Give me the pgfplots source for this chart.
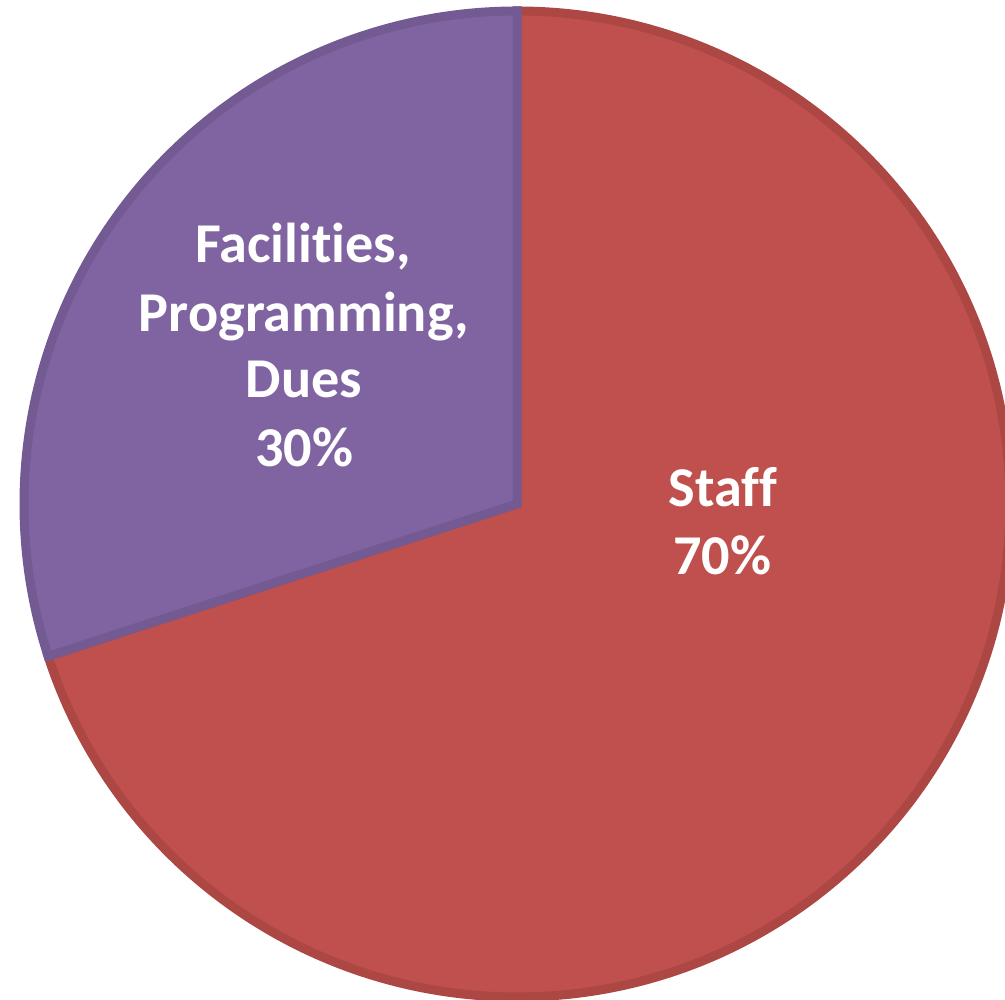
\documentclass[border=0pt]{standalone}
\usepackage{pgfplots}
\pgfplotsset{compat=1.18}
\usepackage{fontspec}
\setmainfont{Carlito}[Ligatures=CommonOff]
\definecolor{staffred}{HTML}{C0504D}
\definecolor{staffborder}{HTML}{AC4744}
\definecolor{facpurple}{HTML}{8064A2}
\definecolor{facborder}{HTML}{735A93}
% values (percent)
\def\vStaff{70}
\def\vFac{30}
\begin{document}
\begin{tikzpicture}
\begin{axis}[
  width=10.05cm, height=10cm, scale only axis,
  xmin=0, xmax=1005, ymin=0, ymax=1000,
  hide axis, clip=true,
]
\pgfmathsetmacro{\aStaffEnd}{90-3.6*\vStaff}
\pgfmathsetmacro{\aFacEnd}{\aStaffEnd-3.6*\vFac}
% Staff slice
\filldraw[fill=staffred, draw=staffborder, line width=0.9mm, line join=miter]
  (axis cs:517,496) -- ++(90:4.93cm) arc[start angle=90, end angle=\aStaffEnd, radius=4.93cm] -- cycle;
% Facilities slice
\filldraw[fill=facpurple, draw=facborder, line width=0.9mm, line join=miter]
  (axis cs:517,496) -- ++(\aStaffEnd:4.93cm) arc[start angle=\aStaffEnd, end angle=\aFacEnd, radius=4.93cm] -- cycle;
\begin{scope}[every node/.style={anchor=base, text=white, font=\fontsize{16}{19}\selectfont\bfseries, inner sep=0pt}]
\node at (axis cs:303,737) {Facilities,};
\node at (axis cs:304,668) {Programming,};
\node at (axis cs:304,602) {Dues};
\node at (axis cs:304,533) {30\%};
\node at (axis cs:723,493) {Staff};
\node at (axis cs:722,425) {70\%};
\end{scope}
\end{axis}
\pgfresetboundingbox
\path (0,0) rectangle (10.05cm,10cm);
\end{tikzpicture}
\end{document}
